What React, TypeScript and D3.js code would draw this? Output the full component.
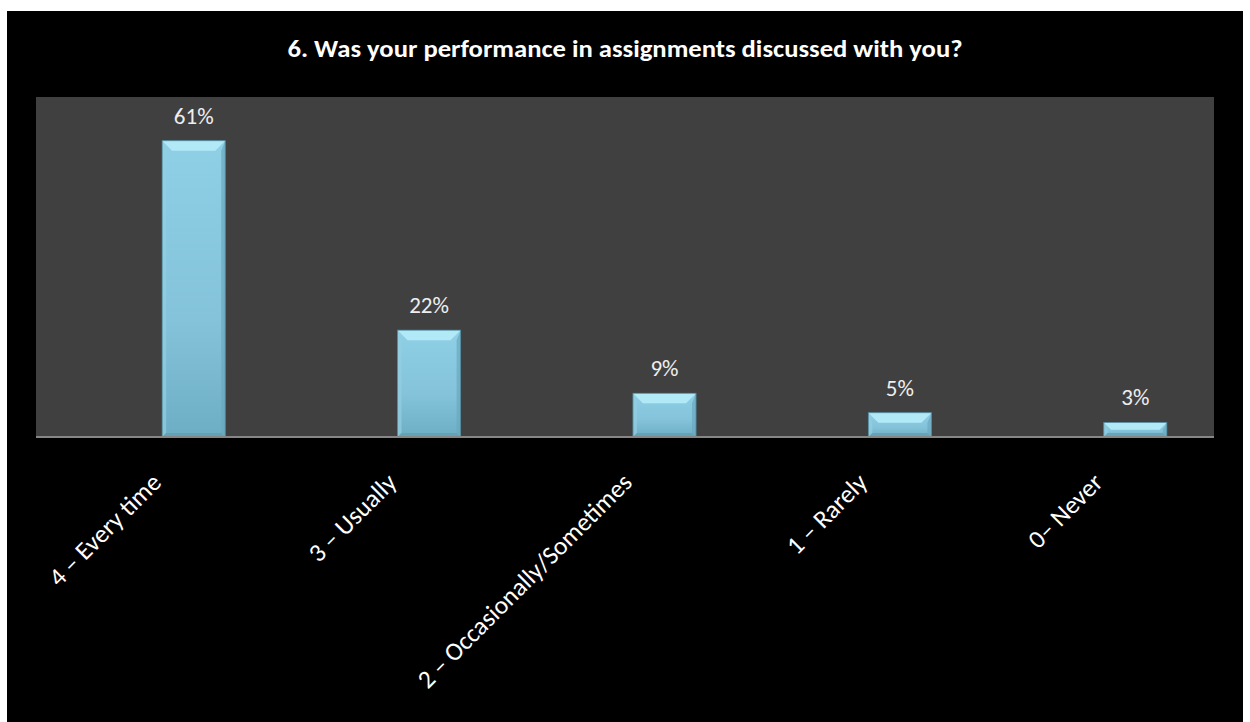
import React from "react";
import * as d3 from "d3";

const categories: string[] = [
  "4 – Every time",
  "3 – Usually",
  "2 – Occasionally/Sometimes",
  "1 – Rarely",
  "0– Never",
];
const values: number[] = [61, 22, 9, 5, 3];
const valueLabels: string[] = ["61%", "22%", "9%", "5%", "3%"];
const title = "6. Was your performance in assignments discussed with you?";

const W = 1250;
const H = 722;
const FONT = "Carlito, Calibri, Lato, sans-serif";

export default function App() {
  const frame = { x: 7, y: 11, w: 1236, h: 711 };
  const plot = { x0: 36, x1: 1214, y0: 97, y1: 437 };

  const x = d3
    .scaleBand<string>()
    .domain(categories)
    .range([76, 1253])
    .paddingInner(0.732)
    .paddingOuter(0.366);
  const y = d3.scaleLinear().domain([0, 70]).range([plot.y1, plot.y0]);
  const bw = x.bandwidth();

  return (
    <svg
      width={W}
      height={H}
      style={{ position: "absolute", left: 0, top: 0, display: "block" }}
    >
      <defs>
        <linearGradient id="face" x1="0" y1="0" x2="0" y2="1">
          <stop offset="0" stopColor="#8fd0e6" />
          <stop offset="0.6" stopColor="#84c3d9" />
          <stop offset="1" stopColor="#6eaec4" />
        </linearGradient>
      </defs>
      <rect x={0} y={0} width={W} height={H} fill="#ffffff" />
      <rect x={frame.x} y={frame.y} width={frame.w} height={frame.h} fill="#000000" />
      <text
        x={625}
        y={57}
        textAnchor="middle"
        fill="#ffffff"
        fontFamily={FONT}
        fontWeight="bold"
        fontSize={24}
        textLength={675}
        lengthAdjust="spacingAndGlyphs"
      >
        {title}
      </text>
      <rect
        x={plot.x0}
        y={plot.y0}
        width={plot.x1 - plot.x0}
        height={plot.y1 - plot.y0}
        fill="#404040"
      />
      {categories.map((c, i) => {
        const x0 = x(c)!;
        const x1 = x0 + bw;
        const yt = y(values[i]);
        const yb = y(0);
        const h = yb - yt;
        const b = Math.min(10, h / 2);
        const s = Math.min(4, h / 3);
        return (
          <g key={c}>
            <rect x={x0} y={yt} width={bw} height={h} fill="url(#face)" />
            <polygon
              points={`${x0},${yt} ${x1},${yt} ${x1 - b},${yt + b} ${x0 + b},${yt + b}`}
              fill="#b2e9f7"
            />
            <polygon
              points={`${x0},${yt} ${x0 + s},${yt + b} ${x0 + s},${yb - s} ${x0},${yb}`}
              fill="#93cfe3"
              opacity={0.7}
            />
            <polygon
              points={`${x1},${yt} ${x1 - s},${yt + b} ${x1 - s},${yb - s} ${x1},${yb}`}
              fill="#6aa8bd"
              opacity={0.7}
            />
            <polygon
              points={`${x0},${yb} ${x0 + s},${yb - s} ${x1 - s},${yb - s} ${x1},${yb}`}
              fill="#5f9cb1"
              opacity={0.7}
            />
            <rect
              x={x0}
              y={yt}
              width={bw}
              height={h}
              fill="none"
              stroke="#4f8799"
              strokeWidth={0.8}
            />
            <text
              x={x0 + bw / 2}
              y={yt - 17}
              textAnchor="middle"
              fill="#eeeeee"
              fontFamily={FONT}
              fontSize={23}
            >
              {valueLabels[i]}
            </text>
          </g>
        );
      })}
      <line
        x1={plot.x0}
        x2={plot.x1}
        y1={plot.y1}
        y2={plot.y1}
        stroke="#868686"
        strokeWidth={2}
      />
      {categories.map((c) => {
        const cx = x(c)! + bw / 2 - 31;
        const cy = 484;
        return (
          <text
            key={"l" + c}
            x={cx}
            y={cy}
            transform={`rotate(-45 ${cx} ${cy})`}
            textAnchor="end"
            fill="#ffffff"
            fontFamily={FONT}
            fontSize={25.5}
          >
            {c}
          </text>
        );
      })}
    </svg>
  );
}
